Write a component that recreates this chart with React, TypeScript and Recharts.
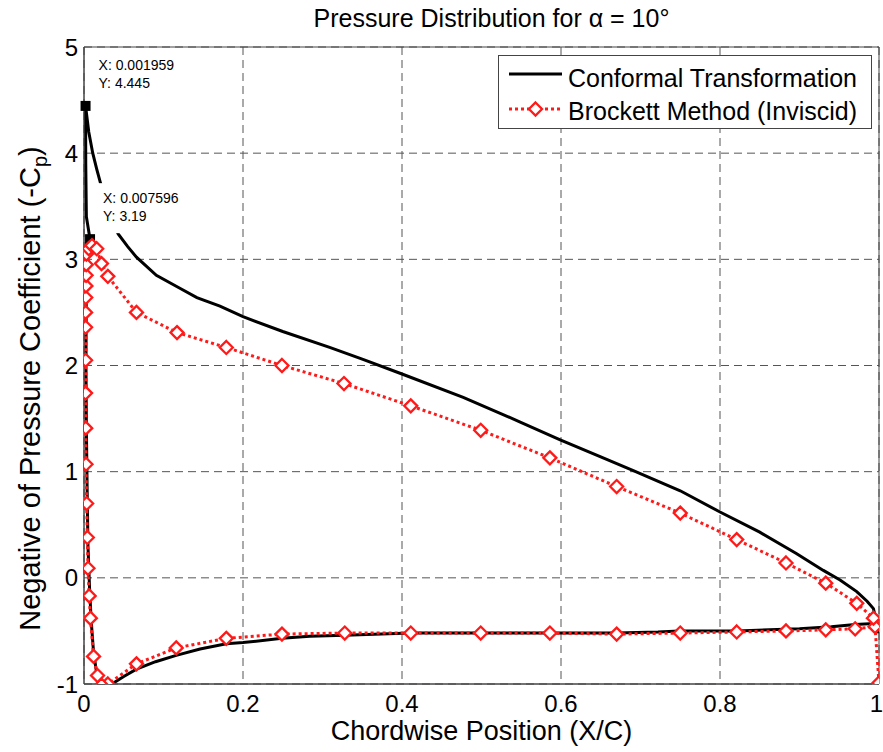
import React from "react"
import {
  LineChart,
  Line,
  XAxis,
  YAxis,
  CartesianGrid,
  Legend,
  ReferenceDot,
  ReferenceArea,
  Label,
} from "recharts"

const xTicks = [0, 0.2, 0.4, 0.6, 0.8, 1]
const yTicks = [-1, 0, 1, 2, 3, 4, 5]

// Conformal transformation, each surface from leading edge to trailing edge
const conformalUpperX = [0.00196, 0.006, 0.011, 0.016, 0.02, 0.028, 0.035, 0.043, 0.055, 0.066, 0.091, 0.12, 0.142, 0.171, 0.2, 0.25, 0.309, 0.35, 0.4, 0.477, 0.548, 0.599, 0.65, 0.691, 0.75, 0.8, 0.85, 0.896, 0.93, 0.951, 0.972, 0.985, 0.993, 1.0]
const conformalUpperY = [4.445, 4.2, 4.0, 3.85, 3.74, 3.52, 3.37, 3.24, 3.12, 3.02, 2.85, 2.73, 2.64, 2.56, 2.46, 2.32, 2.17, 2.06, 1.92, 1.7, 1.47, 1.3, 1.14, 1.01, 0.82, 0.62, 0.43, 0.23, 0.07, -0.02, -0.13, -0.22, -0.29, -0.52]
const conformalLowerX = [0.00196, 0.0022, 0.003, 0.007596, 0.004, 0.0028, 0.0025, 0.003, 0.004, 0.005, 0.007, 0.009, 0.012, 0.016, 0.022, 0.028, 0.035, 0.05, 0.066, 0.09, 0.116, 0.146, 0.179, 0.2, 0.249, 0.284, 0.328, 0.411, 0.5, 0.586, 0.67, 0.722, 0.749, 0.822, 0.9, 0.94, 0.97, 0.993, 1.0]
const conformalLowerY = [4.445, 3.9, 3.4, 3.19, 3.0, 2.6, 2.0, 1.4, 0.8, 0.3, -0.1, -0.4, -0.7, -0.9, -0.98, -1.0, -1.0, -0.93, -0.86, -0.79, -0.73, -0.67, -0.62, -0.61, -0.57, -0.55, -0.54, -0.52, -0.52, -0.52, -0.52, -0.51, -0.5, -0.5, -0.48, -0.46, -0.44, -0.43, -0.52]

// Brockett method (inviscid)
const brockettUpperX = [0.003, 0.006, 0.01, 0.016, 0.022, 0.03, 0.066, 0.117, 0.179, 0.249, 0.327, 0.411, 0.499, 0.586, 0.67, 0.75, 0.821, 0.883, 0.933, 0.972, 0.993]
const brockettUpperY = [3.05, 3.1, 3.13, 3.1, 2.96, 2.84, 2.5, 2.31, 2.17, 2.0, 1.83, 1.62, 1.39, 1.13, 0.86, 0.61, 0.36, 0.14, -0.05, -0.24, -0.38]
const brockettLowerX = [0.0028, 0.0026, 0.0024, 0.0022, 0.002, 0.002, 0.002, 0.002, 0.0022, 0.0025, 0.0033, 0.0042, 0.005, 0.0065, 0.008, 0.012, 0.017, 0.022, 0.03, 0.066, 0.116, 0.179, 0.249, 0.328, 0.411, 0.499, 0.586, 0.67, 0.75, 0.821, 0.883, 0.933, 0.97, 0.995, 1.0]
const brockettLowerY = [2.95, 2.85, 2.75, 2.64, 2.5, 2.36, 2.05, 1.74, 1.41, 1.07, 0.7, 0.38, 0.09, -0.17, -0.38, -0.74, -0.92, -1.01, -1.0, -0.81, -0.66, -0.57, -0.53, -0.52, -0.52, -0.52, -0.52, -0.53, -0.52, -0.51, -0.5, -0.49, -0.48, -0.46, -0.99]

const dataTips = [
  { x: 0.001959, y: 4.445 },
  { x: 0.007596, y: 3.19 },
]

const RED = "#ff1a1a"
const FONT = '"Liberation Sans", Arial, Helvetica, sans-serif'
const CHART_W = 883

// lower surface runs TE -> LE, then upper LE -> TE, so the curve is one loop
const toLoop = (lx: number[], ly: number[], ux: number[], uy: number[]) => {
  const lower = lx.map((x, i) => ({ x, y: ly[i] })).reverse()
  const upper = ux.map((x, i) => ({ x, y: uy[i] }))
  return [...lower, ...upper]
}

const conformalData = toLoop(conformalLowerX, conformalLowerY, conformalUpperX, conformalUpperY)
const brockettData = toLoop(brockettLowerX, brockettLowerY, brockettUpperX, brockettUpperY)

const Diamond = ({ cx, cy, r = 6.5 }: any) => {
  if (cx == null || cy == null) return null
  return (
    <path
      d={`M${cx},${cy - r}L${cx + r},${cy}L${cx},${cy + r}L${cx - r},${cy}Z`}
      fill="#fff"
      stroke={RED}
      strokeWidth={2.3}
    />
  )
}

const DataTip = ({ cx, cy, tipX, tipY }: any) => (
  <g>
    <rect x={cx + 8} y={cy - 56} width={84} height={50} fill="#fff" />
    <text x={cx + 13} y={cy - 36} fontSize={14} fill="#000">{`X: ${tipX}`}</text>
    <text x={cx + 13} y={cy - 18} fontSize={14} fill="#000">{`Y: ${tipY}`}</text>
    <rect x={cx - 5} y={cy - 5} width={10} height={10} fill="#000" />
  </g>
)

// keep the last label ("1") inside the picture, as in the original
const XTick = ({ x, y, payload }: any) => {
  const last = payload.value === xTicks[xTicks.length - 1]
  return (
    <text
      x={last ? CHART_W : x}
      y={y}
      dy="0.71em"
      textAnchor={last ? "end" : "middle"}
      fontSize={24}
      fill="#000"
    >
      {payload.value}
    </text>
  )
}

const LegendBox = () => (
  <svg width={374} height={74} style={{ display: "block" }}>
    <rect x={0.5} y={0.5} width={373} height={73} fill="#fff" stroke="#444" />
    <line x1={11} x2={64} y1={19} y2={19} stroke="#000" strokeWidth={3} />
    <text x={70} y={32} fontSize={25} fill="#000" fontFamily={FONT}>Conformal Transformation</text>
    <line x1={11} x2={64} y1={54} y2={54} stroke={RED} strokeWidth={3} strokeDasharray="3 3" />
    <Diamond cx={37.5} cy={54} r={6.5} />
    <text x={70} y={65} fontSize={25} fill="#000" fontFamily={FONT}>Brockett Method (Inviscid)</text>
  </svg>
)

const YLabel = ({ viewBox }: any) => {
  const x = viewBox.x + 40
  const y = viewBox.y + viewBox.height / 2 + 23
  return (
    <text x={x} y={y} transform={`rotate(-90, ${x}, ${y})`} textAnchor="middle" fontSize={29} fill="#000">
      Negative of Pressure Coefficient (-C
      <tspan dy={7} fontSize={20}>p</tspan>
      <tspan dy={-7}>)</tspan>
    </text>
  )
}

const XLabel = ({ viewBox }: any) => (
  <text x={viewBox.x + viewBox.width / 2} y={viewBox.y + viewBox.height - 12} textAnchor="middle" fontSize={27} fill="#000">
    Chordwise Position (X/C)
  </text>
)

const Title = ({ viewBox }: any) => (
  <text x={viewBox.x + viewBox.width / 2 + 10} y={viewBox.y - 20} textAnchor="middle" fontSize={25} fill="#000">
    Pressure Distribution for α = 10°
  </text>
)

export default function App() {
  return (
    <div style={{ position: "absolute", left: 0, top: 0, width: CHART_W, height: 752, background: "#fff", fontFamily: FONT }}>
      <LineChart width={CHART_W} height={752} margin={{ top: 47, right: 4, bottom: 0, left: 0 }}>
        <CartesianGrid stroke="#555" strokeDasharray="8 5" />
        <XAxis
          dataKey="x"
          type="number"
          domain={[0, 1]}
          ticks={xTicks}
          interval={0}
          allowDataOverflow
          height={68}
          tickSize={0}
          tickMargin={11}
          stroke="#444"
          tick={<XTick />}
        >
          <Label content={<XLabel />} />
        </XAxis>
        <YAxis
          type="number"
          domain={[-1, 5]}
          ticks={yTicks}
          interval={0}
          allowDataOverflow
          width={84}
          tickSize={0}
          tickMargin={6}
          stroke="#444"
          tick={{ fill: "#000", fontSize: 24 }}
        >
          <Label content={<YLabel />} />
        </YAxis>
        <ReferenceArea
          x1={0}
          x2={1}
          y1={-1}
          y2={5}
          fill="none"
          stroke="#444"
          strokeWidth={1}
          label={<Title />}
        />
        <Line
          data={conformalData}
          dataKey="y"
          type="linear"
          stroke="#000"
          strokeWidth={3}
          dot={false}
          activeDot={false}
          isAnimationActive={false}
        />
        <Line
          data={brockettData}
          dataKey="y"
          type="linear"
          stroke={RED}
          strokeWidth={3}
          strokeDasharray="3 3"
          dot={(p: any) => <Diamond key={`b-${p.index}`} cx={p.cx} cy={p.cy} />}
          activeDot={false}
          isAnimationActive={false}
        />
        {dataTips.map((t) => (
          <ReferenceDot
            key={`tip-${t.x}`}
            x={t.x}
            y={t.y}
            r={5}
            shape={(p: any) => <DataTip cx={p.cx} cy={p.cy} tipX={t.x} tipY={t.y} />}
          />
        ))}
        <Legend
          layout="vertical"
          align="center"
          verticalAlign="middle"
          wrapperStyle={{ left: 498, top: 55, width: 374, height: 74 }}
          content={() => <LegendBox />}
        />
      </LineChart>
    </div>
  )
}
